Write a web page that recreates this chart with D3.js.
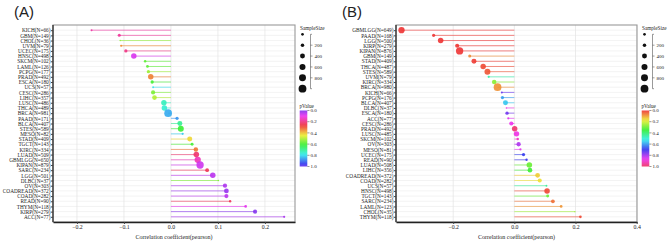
<!DOCTYPE html>
<html>
<head>
<meta charset="utf-8">
<script src="https://cdn.jsdelivr.net/npm/d3@7"></script>
<style>
  body { margin: 0; background: #fff; }
  text { font-family: "Liberation Serif", "Times New Roman", serif; fill: #222; }
</style>
</head>
<body>
<div id="chart"></div>
<script>
const width = 669, height = 241;

// Panel A, top to bottom
const namesA = ["KICH","GBM","CHOL","UVM","UCEC","HNSC","SKCM","LAML","PCPG","PRAD","ESCA","UCS","CESC","LIHC","LUSC","THCA","BRCA","PAAD","BLCA","STES","MESO","STAD","TGCT","KIRC","LUAD","GBMLGG","KIPAN","SARC","LGG","DLBC","OV","COADREAD","COAD","READ","THYM","KIRP","ACC"];
const nA = [66,149,36,79,175,498,102,126,177,492,180,57,286,357,486,489,981,171,407,589,82,409,143,334,509,650,879,234,501,37,303,372,282,90,118,279,77];
const corA = [-0.169,-0.110,-0.108,-0.106,-0.096,-0.079,-0.055,-0.050,-0.048,-0.043,-0.040,-0.038,-0.038,-0.035,-0.015,-0.014,-0.006,0.013,0.019,0.021,0.025,0.040,0.045,0.053,0.054,0.057,0.062,0.077,0.089,0.101,0.115,0.118,0.118,0.126,0.159,0.179,0.241];
const pA = [0.17,0.18,0.53,0.35,0.2,0.08,0.58,0.58,0.52,0.34,0.6,0.8,0.55,0.5,0.74,0.76,0.85,0.87,0.7,0.61,0.82,0.42,0.6,0.33,0.22,0.15,0.07,0.24,0.05,0.55,0.04,0.02,0.05,0.24,0.09,0.003,0.035];

// Panel B, top to bottom
const namesB = ["GBMLGG","PAAD","LGG","KIRP","KIPAN","GBM","STAD","THCA","STES","UVM","KIRC","BRCA","KICH","PCPG","BLCA","DLBC","ESCA","ACC","CESC","PRAD","LUSC","SKCM","OV","MESO","UCEC","READ","LUAD","LIHC","COADREAD","COAD","UCS","HNSC","TGCT","SARC","LAML","CHOL","THYM"];
const nB = [649,168,500,279,876,149,409,487,589,79,334,980,66,176,407,37,180,77,286,492,485,102,303,81,175,90,508,356,372,282,57,498,143,234,123,35,118];
const corB = [-0.369,-0.264,-0.241,-0.187,-0.179,-0.146,-0.132,-0.102,-0.088,-0.084,-0.066,-0.055,-0.041,-0.039,-0.029,-0.026,-0.024,-0.020,-0.010,0.001,0.007,0.011,0.014,0.020,0.030,0.040,0.049,0.051,0.076,0.083,0.105,0.107,0.109,0.126,0.153,0.198,0.216];
const pB = [0.0,0.001,0.0,0.002,0.0,0.08,0.007,0.02,0.03,0.46,0.27,0.085,0.74,0.6,0.56,0.88,0.75,0.86,0.87,0.99,0.88,0.91,0.81,0.86,0.69,0.7,0.3,0.34,0.14,0.16,0.44,0.017,0.3,0.054,0.09,0.25,0.019];

const ticksA = [-0.2, -0.1, 0.0, 0.1, 0.2];
const ticksB = [-0.2, 0.0, 0.2, 0.4];
const sizeKeys = [120, 200, 400, 600, 800, 1000];
const sizeLabels = [200, 400, 600, 800];
const pTicks = [0, 0.2, 0.4, 0.6, 0.8, 1.0];

const svg = d3.select("#chart").append("svg")
    .attr("width", width)
    .attr("height", height);

const defs = svg.append("defs");

// dot radius by sample size
const rScale = d3.scaleSqrt().domain([0, 1000]).range([0, 3.9]);

// two different hue wheels for the p-value colours
const colorA = t => d3.hsl((265 + 350 * t) % 360, 0.85, 0.56).formatHex();
const colorB = t => d3.hsl((345 * t) % 360, 0.85, 0.56).formatHex();

function drawPanel(o) {
    const g = svg.append("g");
    const labels = o.names.map((d, i) => `${d}(N=${o.n[i]})`);

    const x = d3.scaleLinear().domain(o.xDomain).range([o.left, o.right]);
    const y = d3.scalePoint().domain(labels).range([o.top, o.bottom]).padding(1);

    // grid
    g.append("g").selectAll("line")
        .data(labels).enter().append("line")
        .attr("x1", o.left).attr("x2", o.right)
        .attr("y1", d => y(d)).attr("y2", d => y(d))
        .attr("stroke", "#ebebeb").attr("stroke-width", 0.6);
    g.append("g").selectAll("line")
        .data(o.ticks).enter().append("line")
        .attr("x1", d => x(d)).attr("x2", d => x(d))
        .attr("y1", o.top).attr("y2", o.bottom)
        .attr("stroke", "#e2e2e2").attr("stroke-width", 0.7);

    // border
    g.append("rect")
        .attr("x", o.left).attr("y", o.top)
        .attr("width", o.right - o.left).attr("height", o.bottom - o.top)
        .attr("fill", "none").attr("stroke", "#9a9a9a").attr("stroke-width", 1.1);

    const rows = labels.map((d, i) => ({label: d, r: o.cor[i], n: o.n[i], p: o.p[i]}));

    // lollipop sticks
    g.append("g").selectAll("line")
        .data(rows).enter().append("line")
        .attr("x1", x(0)).attr("x2", d => x(d.r))
        .attr("y1", d => y(d.label)).attr("y2", d => y(d.label))
        .attr("stroke", d => o.color(d.p))
        .attr("stroke-opacity", 0.65)
        .attr("stroke-width", 0.9);

    // dots
    g.append("g").selectAll("circle")
        .data(rows).enter().append("circle")
        .attr("cx", d => x(d.r)).attr("cy", d => y(d.label))
        .attr("r", d => rScale(d.n))
        .attr("fill", d => o.color(d.p))
        .attr("fill-opacity", 0.88);

    // axes
    const xAxis = g.append("g")
        .attr("transform", `translate(0,${o.bottom})`)
        .call(d3.axisBottom(x).tickValues(o.ticks).tickFormat(d3.format(".1f")).tickSize(2).tickSizeOuter(0));
    xAxis.select(".domain").attr("stroke", "#222").attr("stroke-width", 1.4);
    xAxis.selectAll(".tick line").attr("stroke", "#444");
    xAxis.selectAll("text").attr("font-size", 5.8).attr("y", 3).attr("dy", "0.71em")
        .attr("font-family", "Liberation Serif").attr("fill", "#333");

    const yAxis = g.append("g")
        .attr("transform", `translate(${o.left},0)`)
        .call(d3.axisLeft(y).tickSize(2).tickSizeOuter(0));
    yAxis.select(".domain").attr("stroke", "#222").attr("stroke-width", 1.2)
        .attr("d", `M0,${o.top}V${o.bottom}`);
    yAxis.selectAll(".tick line").attr("stroke", "#444");
    yAxis.selectAll("text").attr("font-size", 5.3).attr("x", -2.5)
        .attr("font-family", "Liberation Serif").attr("fill", "#333");

    g.append("text")
        .attr("x", (o.left + o.right) / 2).attr("y", 238.5)
        .attr("text-anchor", "middle")
        .attr("font-size", 6).attr("fill", "#333")
        .text("Correlation coefficient(pearson)");

    // panel tag
    g.append("text")
        .attr("x", o.tagX).attr("y", 17)
        .style("font-family", "Liberation Sans, Arial, sans-serif")
        .attr("font-size", 15).attr("fill", "#111")
        .text(o.tag);

    // size legend
    const lx = o.right;
    const lg = g.append("g");
    lg.append("text").attr("x", lx + 5).attr("y", 30)
        .attr("font-size", 5.2).attr("fill", "#333").text("SampleSize");
    const keyY = d3.scalePoint().domain(sizeKeys).range([34.3, 88.7]);
    lg.selectAll("circle").data(sizeKeys).enter().append("circle")
        .attr("cx", lx + 7.5).attr("cy", d => keyY(d))
        .attr("r", d => rScale(d)).attr("fill", "#111");
    lg.append("line")
        .attr("x1", lx + 15.5).attr("x2", lx + 15.5)
        .attr("y1", keyY(sizeKeys[0])).attr("y2", keyY(sizeKeys[sizeKeys.length - 1]))
        .attr("stroke", "#555").attr("stroke-width", 0.6);
    lg.selectAll(".brk").data([sizeKeys[0], sizeKeys[sizeKeys.length - 1]]).enter().append("line")
        .attr("x1", lx + 15.5).attr("x2", lx + 17)
        .attr("y1", d => keyY(d)).attr("y2", d => keyY(d))
        .attr("stroke", "#555").attr("stroke-width", 0.6);
    lg.selectAll(".lbt").data(sizeLabels).enter().append("line")
        .attr("x1", lx + 15.5).attr("x2", lx + 17.5)
        .attr("y1", d => keyY(d)).attr("y2", d => keyY(d))
        .attr("stroke", "#555").attr("stroke-width", 0.6);
    lg.selectAll("text.lab").data(sizeLabels).enter().append("text")
        .attr("x", lx + 19.5).attr("y", d => keyY(d)).attr("dy", "0.35em")
        .attr("font-size", 5).attr("fill", "#333").text(d => d);

    // colour bar
    const gid = "grad" + o.tag.replace(/\W/g, "");
    const grad = defs.append("linearGradient").attr("id", gid)
        .attr("x1", 0).attr("x2", 0).attr("y1", 0).attr("y2", 1);
    d3.range(0, 1.0001, 0.05).forEach(t => {
        grad.append("stop").attr("offset", t).attr("stop-color", o.color(t)).attr("stop-opacity", 0.9);
    });
    const cy = d3.scaleLinear().domain([0, 1]).range([110.5, 166.5]);
    lg.append("text").attr("x", lx + 4.5).attr("y", 108)
        .attr("font-size", 5.2).attr("fill", "#333").text("pValue");
    lg.append("rect")
        .attr("x", lx + 4.7).attr("y", cy(0))
        .attr("width", 7.6).attr("height", cy(1) - cy(0))
        .attr("fill", `url(#${gid})`);
    lg.selectAll("line.ct").data(pTicks).enter().append("line")
        .attr("x1", lx + 12.3).attr("x2", lx + 14.5)
        .attr("y1", d => cy(d)).attr("y2", d => cy(d))
        .attr("stroke", "#555").attr("stroke-width", 0.6);
    lg.selectAll("text.ct").data(pTicks).enter().append("text")
        .attr("x", lx + 15.5).attr("y", d => cy(d)).attr("dy", "0.35em")
        .attr("font-size", 5).attr("fill", "#333").text(d => d3.format(".1f")(d));
}

drawPanel({
    tag: "(A)", tagX: 14,
    names: namesA, n: nA, cor: corA, p: pA,
    left: 53, right: 295, top: 25, bottom: 222,
    xDomain: [-0.251, 0.264], ticks: ticksA, color: colorA
});

drawPanel({
    tag: "(B)", tagX: 342,
    names: namesB, n: nB, cor: corB, p: pB,
    left: 396, right: 637, top: 25, bottom: 222,
    xDomain: [-0.387, 0.401], ticks: ticksB, color: colorB
});
</script>
</body>
</html>
